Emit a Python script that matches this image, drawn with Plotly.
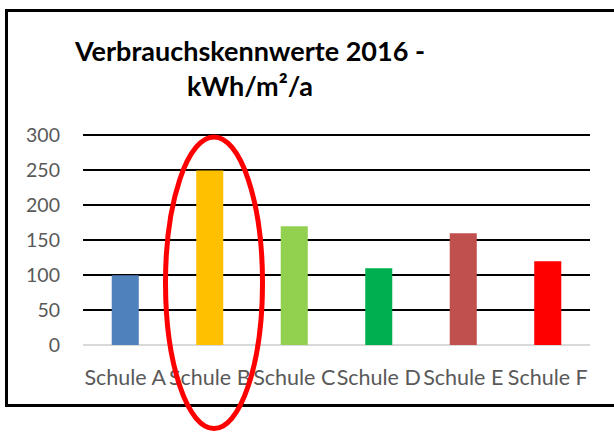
import plotly.graph_objects as go

categories = ["Schule A", "Schule B", "Schule C", "Schule D", "Schule E", "Schule F"]
values = [100, 250, 170, 110, 160, 120]
colors = ["#4F81BD", "#FFC000", "#92D050", "#00B050", "#C0504D", "#FF0000"]
y_ticks = [0, 50, 100, 150, 200, 250, 300]

W, H = 614, 432
L, R, T, B = 83, 24, 132, 87
pw, ph = W - L - R, H - T - B

def px_x(v):
    return (v - L) / pw

def px_y(v):
    return (H - B - v) / ph

fig = go.Figure(go.Bar(x=categories, y=values, marker=dict(color=colors, line=dict(width=0)), showlegend=False))

frame_path = "M {r},{t} L {l},{t} L {l},{b} L {r},{b}".format(
    l=px_x(6.5), r=px_x(640), t=px_y(10.5), b=px_y(405.5))

fig.update_layout(
    width=W, height=H,
    margin=dict(l=L, r=R, t=T, b=B),
    paper_bgcolor="white", plot_bgcolor="white",
    bargap=0.68,
    font=dict(family="Lato, Calibri, sans-serif", color="#595959", size=18),
    annotations=[dict(
        text="<b>Verbrauchskennwerte 2016 -</b><br><b>kWh/m²/a</b>",
        xref="paper", yref="paper", x=px_x(249), y=px_y(68),
        xanchor="center", yanchor="middle", showarrow=False, align="center",
        font=dict(family="Lato, Calibri, sans-serif", size=27, color="black"),
    )],
    shapes=[
        dict(type="path", xref="paper", yref="paper", path=frame_path,
             line=dict(color="black", width=3), fillcolor="rgba(0,0,0,0)", layer="above"),
        dict(type="circle", xref="paper", yref="paper",
             x0=px_x(165.5), x1=px_x(262.5), y0=px_y(137), y1=px_y(428.5),
             line=dict(color="#FF0000", width=5), layer="above"),
    ],
)
fig.update_xaxes(showgrid=False, showline=False, ticks="", ticklabelstandoff=17, tickangle=0,
                 tickfont=dict(size=21.5, color="#595959"))
fig.update_yaxes(range=[0, 305], tickvals=y_ticks, showgrid=True, gridcolor="black", gridwidth=1.5,
                 zeroline=True, zerolinecolor="#D9D9D9", zerolinewidth=2, showline=False,
                 ticks="", ticklabelstandoff=22, tickfont=dict(size=19.5, color="#595959"))

fig.write_html("out.html", config={"displayModeBar": False},
               post_script="document.body.style.margin='0';document.documentElement.style.overflow='hidden';")
